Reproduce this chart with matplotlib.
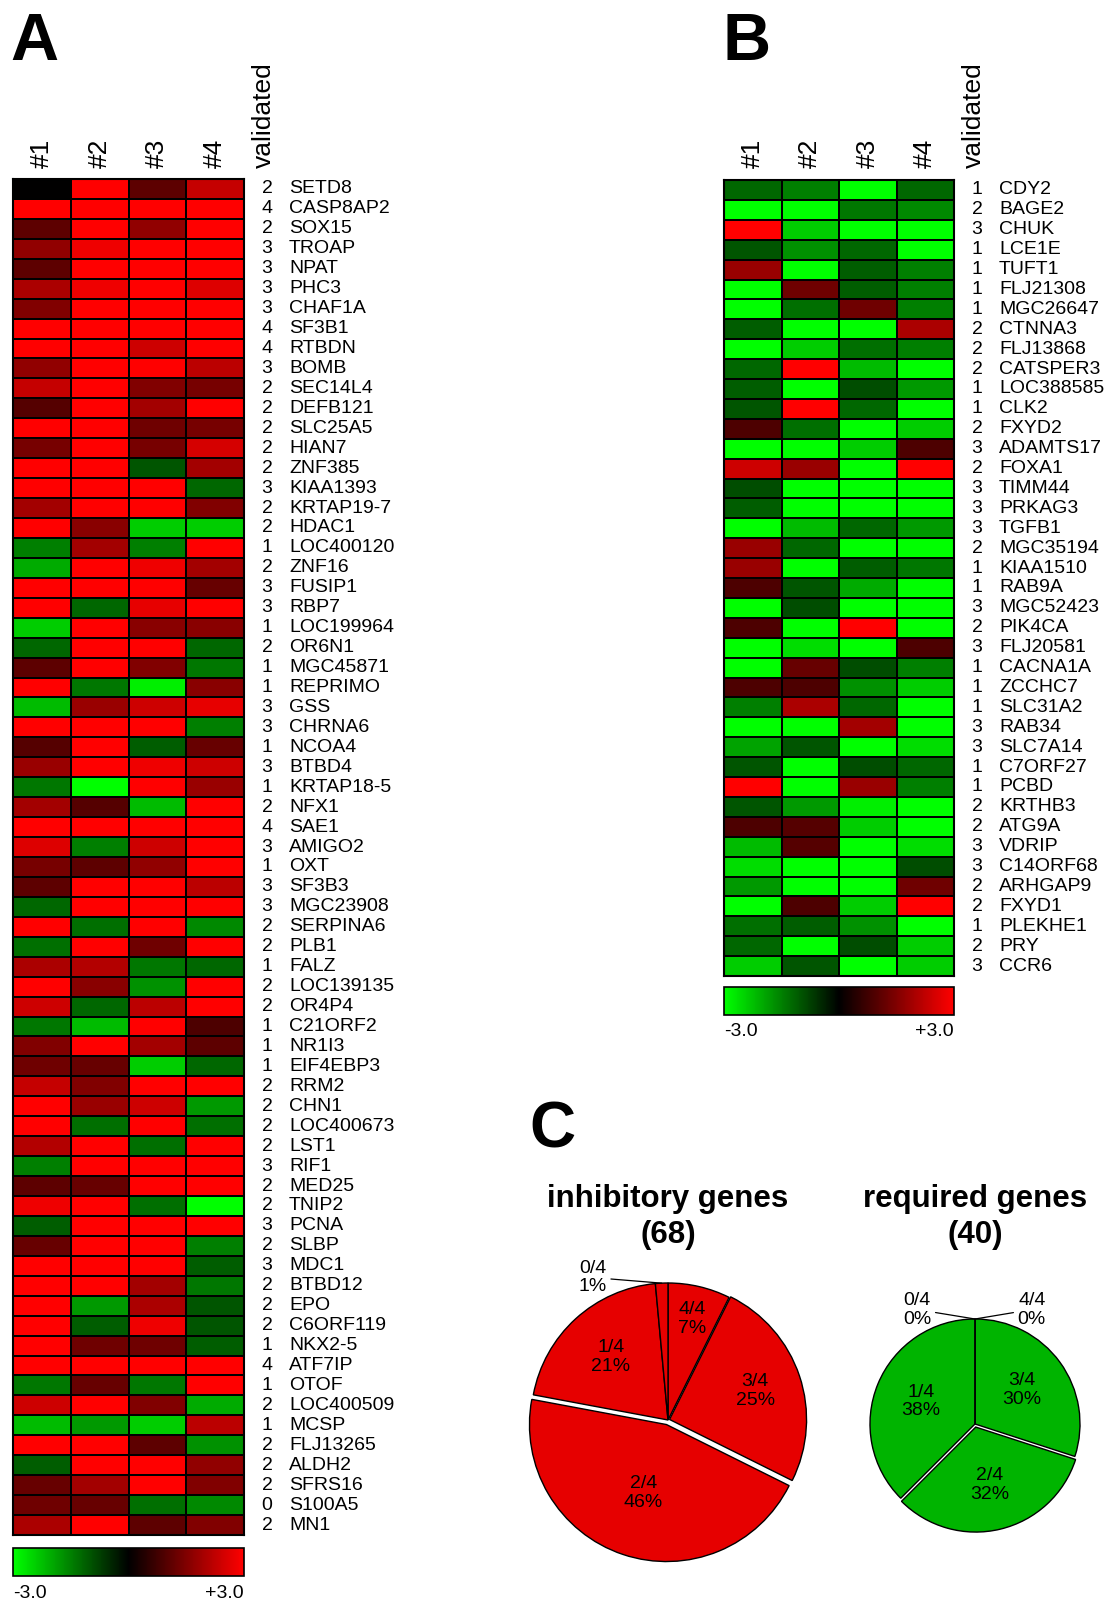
import numpy as np
import matplotlib
matplotlib.use('Agg')
import matplotlib.pyplot as plt
from matplotlib.colors import LinearSegmentedColormap
from matplotlib.transforms import blended_transform_factory as blend

plt.rcParams['font.family'] = ['Liberation Sans', 'DejaVu Sans']

# ---- data: panel A (inhibitory genes) ----
cols = ['#1', '#2', '#3', '#4']
a_genes = ['SETD8', 'CASP8AP2', 'SOX15', 'TROAP', 'NPAT', 'PHC3', 'CHAF1A', 'SF3B1', 'RTBDN', 'BOMB',
           'SEC14L4', 'DEFB121', 'SLC25A5', 'HIAN7', 'ZNF385', 'KIAA1393', 'KRTAP19-7', 'HDAC1', 'LOC400120', 'ZNF16',
           'FUSIP1', 'RBP7', 'LOC199964', 'OR6N1', 'MGC45871', 'REPRIMO', 'GSS', 'CHRNA6', 'NCOA4', 'BTBD4',
           'KRTAP18-5', 'NFX1', 'SAE1', 'AMIGO2', 'OXT', 'SF3B3', 'MGC23908', 'SERPINA6', 'PLB1', 'FALZ',
           'LOC139135', 'OR4P4', 'C21ORF2', 'NR1I3', 'EIF4EBP3', 'RRM2', 'CHN1', 'LOC400673', 'LST1', 'RIF1',
           'MED25', 'TNIP2', 'PCNA', 'SLBP', 'MDC1', 'BTBD12', 'EPO', 'C6ORF119', 'NKX2-5', 'ATF7IP',
           'OTOF', 'LOC400509', 'MCSP', 'FLJ13265', 'ALDH2', 'SFRS16', 'S100A5', 'MN1']
a_validated = [2, 4, 2, 3, 3, 3, 3, 4, 4, 3, 2, 2, 2, 2, 2, 3, 2, 2, 1, 2,
               3, 3, 1, 2, 1, 1, 3, 3, 1, 3, 1, 2, 4, 3, 1, 3, 3, 2, 2, 1,
               2, 2, 1, 1, 1, 2, 2, 2, 2, 3, 2, 2, 3, 2, 3, 2, 2, 2, 1, 4,
               1, 2, 1, 2, 2, 2, 0, 2]
a_values = [
    [0, 3, 1.1, 2.3], [3, 3, 3, 3], [1.1, 3, 1.7, 3], [1.7, 2.8, 3, 3], [1.1, 3, 3, 3],
    [2.0, 2.8, 3, 2.6], [1.5, 3, 3, 3], [3, 3, 3, 3], [3, 3, 2.4, 3], [1.7, 3, 3, 2.2],
    [2.3, 3, 1.5, 1.4], [1.0, 3, 1.9, 3], [3, 3, 1.3, 1.4], [1.4, 3, 1.4, 2.5], [3, 3, -1.0, 1.9],
    [3, 3, 3, -1.2], [1.9, 3, 3, 1.5], [3, 1.6, -2.4, -2.4], [-1.5, 1.9, -1.5, 3], [-2.0, 3, 2.8, 1.9],
    [3, 3, 3, 1.2], [3, -1.2, 2.7, 3], [-2.4, 3, 1.6, 1.6], [-1.2, 3, 3, -1.2], [1.1, 3, 1.5, -1.4],
    [3, -1.4, -2.8, 1.6], [-2.2, 1.8, 2.4, 2.7], [3, 3, 3, -1.5], [1.0, 3, -1.1, 1.2], [1.8, 3, 2.8, 2.4],
    [-1.4, -3, 3, 1.8], [1.9, 1.0, -2.2, 3], [3, 3, 3, 3], [2.6, -1.5, 2.4, 3], [1.4, 1.1, 1.7, 3],
    [1.1, 3, 3, 2.2], [-1.2, 3, 3, 3], [3, -1.3, 3, -1.6], [-1.3, 3, 1.3, 3], [2.0, 2.1, -1.4, -1.2],
    [3, 1.6, -1.7, 3], [2.4, -1.2, 2.2, 3], [-1.4, -2.2, 3, 0.9], [1.5, 3, 1.9, 1.1], [1.3, 1.2, -2.4, -1.2],
    [2.3, 1.5, 3, 3], [3, 1.8, 2.4, -1.8], [3, -1.3, 3, -1.3], [2.1, 3, -1.3, 3], [-1.5, 3, 3, 3],
    [1.1, 1.2, 3, 3], [2.8, 3, -1.3, -3], [-1.1, 3, 3, 3], [1.2, 3, 3, -1.5], [3, 3, 3, -1.1],
    [3, 3, 1.9, -1.4], [3, -1.8, 2.0, -1.0], [3, -1.1, 2.8, -1.0], [3, 1.3, 1.3, -1.1], [3, 3, 3, 3],
    [-1.4, 1.2, -1.4, 3], [2.4, 3, 1.5, -2.0], [-2.2, -1.8, -2.4, 2.2], [3, 3, 1.1, -1.7], [-1.1, 3, 3, 1.7],
    [1.2, 1.9, 3, 1.5], [1.3, 1.2, -1.3, -1.6], [2.0, 3, 1.1, 1.5],
]

# ---- data: panel B (required genes) ----
b_genes = ['CDY2', 'BAGE2', 'CHUK', 'LCE1E', 'TUFT1', 'FLJ21308', 'MGC26647', 'CTNNA3', 'FLJ13868', 'CATSPER3',
           'LOC388585', 'CLK2', 'FXYD2', 'ADAMTS17', 'FOXA1', 'TIMM44', 'PRKAG3', 'TGFB1', 'MGC35194', 'KIAA1510',
           'RAB9A', 'MGC52423', 'PIK4CA', 'FLJ20581', 'CACNA1A', 'ZCCHC7', 'SLC31A2', 'RAB34', 'SLC7A14', 'C7ORF27',
           'PCBD', 'KRTHB3', 'ATG9A', 'VDRIP', 'C14ORF68', 'ARHGAP9', 'FXYD1', 'PLEKHE1', 'PRY', 'CCR6']
b_validated = [1, 2, 3, 1, 1, 1, 1, 2, 2, 2, 1, 1, 2, 3, 2, 3, 3, 3, 2, 1,
               1, 3, 2, 3, 1, 1, 1, 3, 3, 1, 1, 2, 2, 3, 3, 2, 2, 1, 2, 3]
b_values = [
    [-1.2, -1.5, -3, -1.2], [-3, -3, -1.4, -1.6], [3, -2.4, -3, -3], [-1.0, -1.7, -1.2, -3], [1.8, -3, -1.1, -1.5],
    [-3, 1.3, -1.1, -1.5], [-3, -1.3, 1.3, -1.5], [-1.1, -3, -3, 2.0], [-3, -2.4, -1.3, -1.5], [-1.2, 3, -2.2, -3],
    [-1.1, -3, -0.9, -1.8], [-1.0, 3, -1.2, -3], [0.9, -1.3, -3, -2.4], [-3, -3, -2.4, 0.9], [2.4, 1.8, -3, 3],
    [-0.9, -3, -3, -3], [-1.1, -3, -3, -3], [-3, -2.2, -1.2, -1.8], [1.8, -1.2, -3, -3], [1.8, -3, -1.1, -1.4],
    [0.9, -1.0, -2.0, -3], [-3, -0.9, -3, -3], [0.9, -3, 3, -3], [-3, -2.6, -3, 0.9], [-3, 1.2, -0.9, -1.5],
    [0.9, 0.9, -1.7, -2.4], [-1.5, 2.0, -1.2, -3], [-3, -3, 1.9, -3], [-1.9, -1.0, -3, -2.6], [-1.0, -3, -0.9, -1.2],
    [3, -3, 1.8, -1.5], [-1.0, -1.8, -2.8, -3], [0.9, 1.0, -2.4, -3], [-2.2, 1.0, -3, -2.6], [-2.6, -3, -3, -0.9],
    [-1.8, -3, -3, 1.3], [-3, 0.9, -2.4, 3], [-1.3, -1.1, -1.7, -3], [-1.2, -3, -0.9, -2.4], [-2.4, -1.0, -3, -2.4],
]

levels = [4, 3, 2, 1, 0]

W, H = 1108, 1605
fig = plt.figure(figsize=(W / 100, H / 100), dpi=100)


def box(x, y, w, h):
    # axes from pixel box (top-left origin)
    return fig.add_axes([x / W, 1 - (y + h) / H, w / W, h / H])


def fx(x):
    return x / W


def fy(y):
    return 1 - y / H


cmap = LinearSegmentedColormap.from_list('gkr', ['#00ff00', '#000000', '#ff0000'])


def heatmap(x0, y0, w, h, genes, vals, validated, cb_y):
    ax = box(x0, y0, w, h)
    n = len(genes)
    mesh = ax.pcolormesh(np.array(vals), cmap=cmap, vmin=-3, vmax=3,
                         edgecolors='black', linewidth=1.3)
    ax.set_xlim(0, 4)
    ax.set_ylim(n, 0)
    ax.set_xticks([])
    ax.set_yticks([])
    for s in ax.spines.values():
        s.set_linewidth(1.5)
    tr = blend(fig.transFigure, ax.transData)
    for i, (g, v) in enumerate(zip(genes, validated)):
        ax.text(fx(x0 + w + 23), i + 0.5, str(v), transform=tr, ha='center', va='center', fontsize=14)
        ax.text(fx(x0 + w + 45), i + 0.5, g, transform=tr, ha='left', va='center', fontsize=14)
    tr2 = blend(ax.transData, fig.transFigure)
    for j, c in enumerate(cols):
        ax.text(j + 0.5, fy(168), c, transform=tr2, rotation=90, ha='center', va='bottom', fontsize=19)
    fig.text(fx(x0 + w + 20), fy(168), 'validated', rotation=90, ha='center', va='bottom', fontsize=19)
    cax = box(x0, cb_y, w, 28)
    cb = fig.colorbar(mesh, cax=cax, orientation='horizontal')
    cb.set_ticks([])
    cb.outline.set_linewidth(1.2)
    fig.text(fx(x0), fy(cb_y + 45), '-3.0', ha='left', va='center', fontsize=14)
    fig.text(fx(x0 + w), fy(cb_y + 45), '+3.0', ha='right', va='center', fontsize=14)


heatmap(13, 179, 231, 1356, a_genes, a_values, a_validated, 1548)
heatmap(724, 180, 230, 796, b_genes, b_values, b_validated, 987)

fig.text(fx(10), fy(60), 'A', fontsize=48, fontweight='bold', va='baseline')
fig.text(fx(723), fy(60), 'B', fontsize=48, fontweight='bold', va='baseline')
fig.text(fx(529), fy(1147), 'C', fontsize=46, fontweight='bold', va='baseline')


def pie(cx, cy, r, validated, color, explode, label_r, outside, title):
    pad = 1.3
    ax = box(cx - pad * r, cy - pad * r, 2 * pad * r, 2 * pad * r)
    counts = [validated.count(k) for k in levels]
    wedges, _ = ax.pie(counts, colors=[color] * 5, startangle=90, counterclock=False,
                       explode=explode, wedgeprops=dict(edgecolor='black', linewidth=1))
    ax.set_aspect('auto')
    ax.set_xlim(-pad, pad)
    ax.set_ylim(-pad, pad)
    total = sum(counts)
    for k, wd, c, lr in zip(levels, wedges, counts, label_r):
        lab = '%d/4\n%d%%' % (k, round(100 * c / total))
        mid = np.deg2rad((wd.theta1 + wd.theta2) / 2)
        if k in outside:
            ax.annotate(lab, xy=(np.cos(mid), np.sin(mid)), xytext=outside[k],
                        ha='center', va='center', fontsize=14, linespacing=1.15,
                        arrowprops=dict(arrowstyle='-', color='black', lw=0.9, shrinkA=1, shrinkB=0))
        else:
            px, py = wd.center
            ax.text(px + lr * np.cos(mid), py + lr * np.sin(mid), lab, ha='center', va='center',
                    fontsize=14, linespacing=1.15)
    fig.text(fx(cx), fy(1217), '%s\n(%d)' % (title, total), ha='center', va='center',
             fontsize=22.5, fontweight='bold', linespacing=1.3)


pie(668, 1420, 137, a_validated, '#e60000', [0, 0.012, 0.035, 0, 0],
    [0.76, 0.66, 0.53, 0.62, 0], {0: (-0.55, 1.04)}, 'inhibitory genes')
pie(975, 1424, 105, b_validated, '#00b400', [0, 0, 0.03, 0, 0],
    [0, 0.55, 0.57, 0.56, 0], {0: (-0.55, 1.09), 4: (0.54, 1.09)}, 'required genes')

fig.savefig('out.png', dpi=100)
